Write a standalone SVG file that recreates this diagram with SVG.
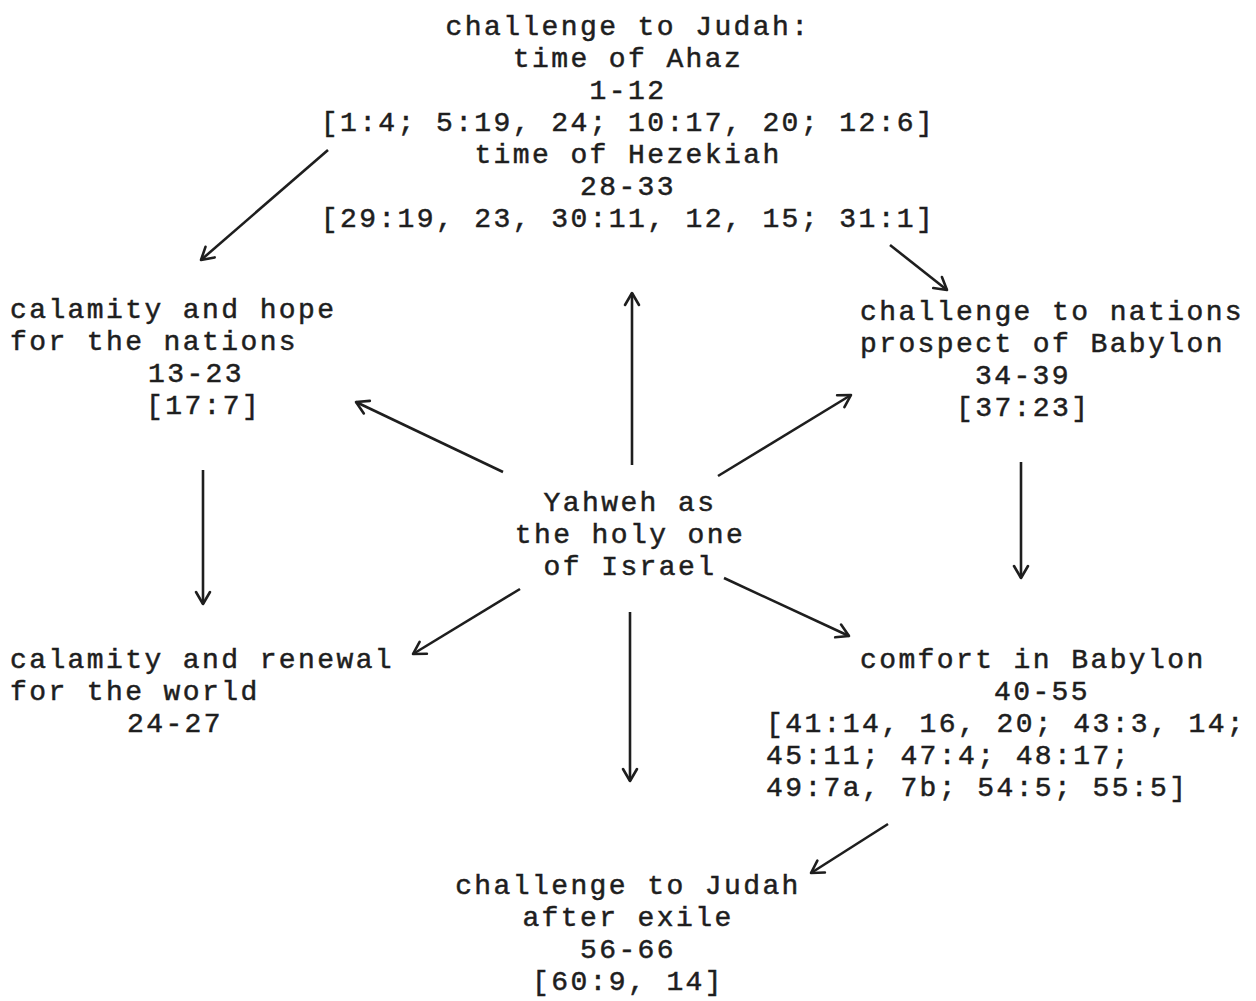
<svg xmlns="http://www.w3.org/2000/svg" width="1256" height="1001" viewBox="0 0 1256 1001">
<defs>
<style>
text{font-family:"Liberation Mono","Courier New",monospace;font-size:28px;letter-spacing:2.4px;fill:#1e1e1e;stroke:#1e1e1e;stroke-width:0.5}
.c{text-anchor:middle}
.ln{stroke:#1e1e1e;stroke-width:2.6;fill:none;marker-end:url(#ah)}
</style>
<marker id="ah" markerUnits="userSpaceOnUse" markerWidth="30" markerHeight="30" viewBox="-15 -15 30 30" refX="0" refY="0" orient="auto">
<path d="M-12,-7 L0,0 L-12,7" fill="none" stroke="#1e1e1e" stroke-width="2.6" stroke-linecap="round" stroke-linejoin="round"/>
</marker>
</defs>
<rect width="1256" height="1001" fill="#ffffff"/>
<g id="n-top">
<text class="c" x="628" y="35">challenge to Judah:</text>
<text class="c" x="628" y="67">time of Ahaz</text>
<text class="c" x="628" y="99">1-12</text>
<text class="c" x="628" y="131">[1:4; 5:19, 24; 10:17, 20; 12:6]</text>
<text class="c" x="628" y="163">time of Hezekiah</text>
<text class="c" x="628" y="195">28-33</text>
<text class="c" x="628" y="227">[29:19, 23, 30:11, 12, 15; 31:1]</text>
</g>
<g id="n-nations">
<text x="10" y="318">calamity and hope</text>
<text x="10" y="350">for the nations</text>
<text x="148" y="382">13-23</text>
<text x="146" y="414">[17:7]</text>
</g>
<g id="n-babylon-prospect">
<text x="860" y="320">challenge to nations</text>
<text x="860" y="352">prospect of Babylon</text>
<text x="975" y="384">34-39</text>
<text x="956" y="416">[37:23]</text>
</g>
<g id="n-center">
<text class="c" x="630" y="511">Yahweh as</text>
<text class="c" x="630" y="543">the holy one</text>
<text class="c" x="630" y="575">of Israel</text>
</g>
<g id="n-world">
<text x="10" y="668">calamity and renewal</text>
<text x="10" y="700">for the world</text>
<text x="127" y="732">24-27</text>
</g>
<g id="n-comfort">
<text x="860" y="668">comfort in Babylon</text>
<text x="994" y="700">40-55</text>
<text x="766" y="732">[41:14, 16, 20; 43:3, 14;</text>
<text x="766" y="764">45:11; 47:4; 48:17;</text>
<text x="766" y="796">49:7a, 7b; 54:5; 55:5]</text>
</g>
<g id="n-bottom">
<text class="c" x="628" y="894">challenge to Judah</text>
<text class="c" x="628" y="926">after exile</text>
<text class="c" x="628" y="958">56-66</text>
<text class="c" x="628" y="990">[60:9, 14]</text>
</g>
<g id="connectors">
<line class="ln" x1="328" y1="150" x2="201" y2="260"/>
<line class="ln" x1="890" y1="245" x2="947" y2="290"/>
<line class="ln" x1="503" y1="472" x2="356" y2="402"/>
<line class="ln" x1="632" y1="465" x2="632" y2="293"/>
<line class="ln" x1="718" y1="476" x2="851" y2="395"/>
<line class="ln" x1="203" y1="470" x2="203" y2="604"/>
<line class="ln" x1="1021" y1="462" x2="1021" y2="578"/>
<line class="ln" x1="520" y1="589" x2="413" y2="654"/>
<line class="ln" x1="724" y1="578" x2="849" y2="636"/>
<line class="ln" x1="630" y1="612" x2="630" y2="781"/>
<line class="ln" x1="888" y1="824" x2="811" y2="873"/>
</g>
</svg>
